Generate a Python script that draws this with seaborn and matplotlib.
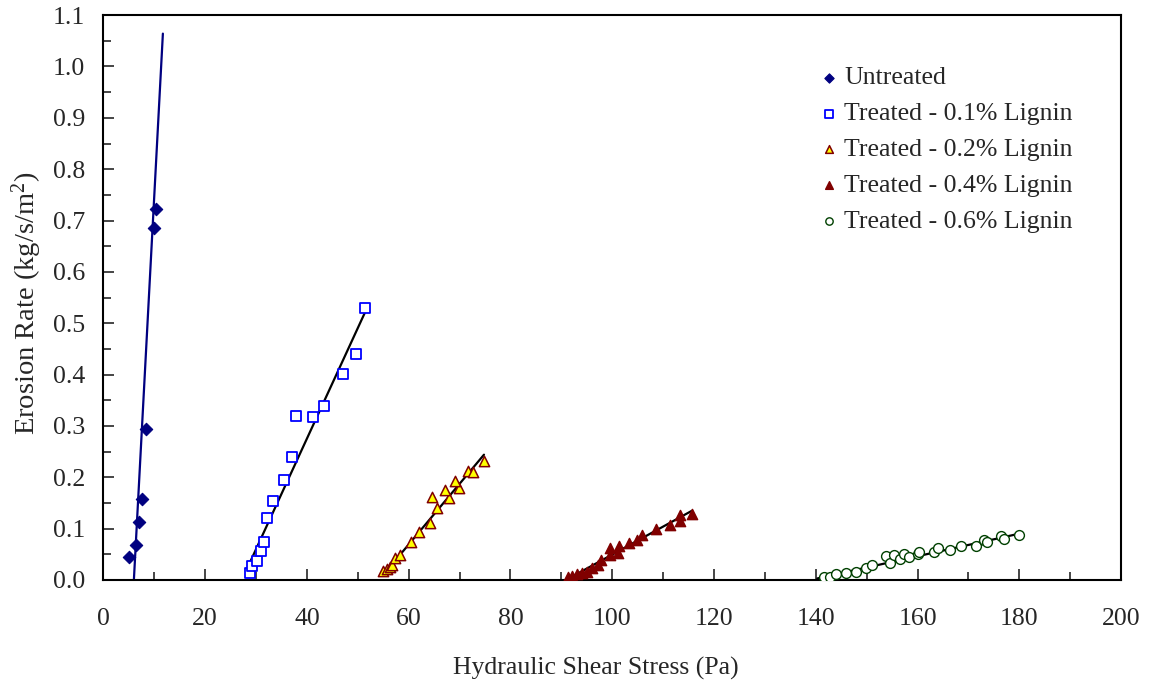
import numpy as np
import pandas as pd
import matplotlib
matplotlib.use("Agg")
import matplotlib.pyplot as plt
import seaborn as sns
from matplotlib.ticker import MultipleLocator

# data
untreated_x = [5.0, 6.5, 7.0, 7.5, 8.3, 10.0, 10.3]
untreated_y = [0.045, 0.068, 0.113, 0.158, 0.295, 0.685, 0.722]

l01_x = [28.8, 29.2, 30.2, 31.0, 31.6, 32.2, 33.3, 35.5, 37.0, 37.8, 41.2, 43.4, 47.1, 49.6, 51.5]
l01_y = [0.014, 0.027, 0.037, 0.057, 0.074, 0.121, 0.154, 0.195, 0.240, 0.319, 0.318, 0.338, 0.402, 0.441, 0.529]

l02_x = [55.0, 55.7, 56.3, 56.8, 57.3, 58.2, 60.5, 62.0, 64.1, 65.5, 64.6, 67.9, 67.1, 69.9, 69.1, 71.6, 72.7, 74.8]
l02_y = [0.018, 0.021, 0.025, 0.029, 0.042, 0.049, 0.073, 0.094, 0.110, 0.141, 0.162, 0.160, 0.176, 0.180, 0.193, 0.213, 0.210, 0.231]

l04_x = [91.4, 92.1, 93.1, 94.0, 95.0, 96.0, 97.2, 97.8, 99.6, 101.1, 99.6, 101.4, 103.3, 104.8, 105.8, 108.7, 111.4, 113.3, 113.3, 115.6]
l04_y = [0.005, 0.008, 0.012, 0.013, 0.016, 0.023, 0.029, 0.039, 0.049, 0.053, 0.062, 0.066, 0.072, 0.077, 0.088, 0.099, 0.107, 0.114, 0.127, 0.129]

l06_x = [141.6, 142.8, 143.9, 146.0, 148.0, 149.8, 151.1, 153.9, 154.5, 155.3, 156.6, 157.4, 158.4, 160.1, 160.3,
         163.3, 164.0, 166.4, 168.5, 171.5, 173.1, 173.7, 176.4, 177.0, 179.9]
l06_y = [0.005, 0.006, 0.012, 0.013, 0.015, 0.023, 0.029, 0.047, 0.034, 0.048, 0.041, 0.051, 0.044, 0.050, 0.054,
         0.055, 0.062, 0.059, 0.067, 0.067, 0.078, 0.074, 0.085, 0.079, 0.088]

# trend line end points
fit_untreated = ([6.0, 11.7], [0.0, 1.064])
fit_01 = ([28.8, 51.6], [0.034, 0.525])
fit_02 = ([55.0, 74.8], [0.010, 0.244])
fit_04 = ([91.1, 115.7], [0.001, 0.135])
fit_06 = ([140.3, 179.9], [0.003, 0.090])

labels = ["Untreated", "Treated - 0.1% Lignin", "Treated - 0.2% Lignin",
          "Treated - 0.4% Lignin", "Treated - 0.6% Lignin"]

sns.set_style("white")
plt.rcParams["font.family"] = ["Liberation Serif", "DejaVu Serif"]
plt.rcParams["mathtext.fontset"] = "stix"

fig = plt.figure(figsize=(11.56, 6.88), dpi=100)
ax = fig.add_axes([0.0894, 0.157, 0.8804, 0.821])

series = [
    (untreated_x, untreated_y, fit_untreated, dict(marker="D", s=40, color="#000080", edgecolor="#000080", linewidth=0.8), "#000080"),
    (l01_x, l01_y, fit_01, dict(marker="s", s=62, facecolor="white", edgecolor="#0000FF", linewidth=1.3), "black"),
    (l02_x, l02_y, fit_02, dict(marker="^", s=55, color="#FFFF00", edgecolor="#800000", linewidth=1.1), "black"),
    (l04_x, l04_y, fit_04, dict(marker="^", s=55, color="#800000", edgecolor="#800000", linewidth=1.0), "black"),
    (l06_x, l06_y, fit_06, dict(marker="o", s=50, facecolor="white", edgecolor="#004000", linewidth=1.0), "black"),
]

for (xs, ys, fit, style, lc), lab in zip(series, labels):
    df = pd.DataFrame({"x": xs, "y": ys})
    sns.scatterplot(data=df, x="x", y="y", ax=ax, label=lab, zorder=3, **style)
    fdf = pd.DataFrame({"x": fit[0], "y": fit[1]})
    sns.lineplot(data=fdf, x="x", y="y", ax=ax, color=lc, linewidth=1.6, zorder=2, legend=False)

ax.set_xlim(0, 200)
ax.set_ylim(0, 1.1)
ax.xaxis.set_major_locator(MultipleLocator(20))
ax.xaxis.set_minor_locator(MultipleLocator(10))
ax.yaxis.set_major_locator(MultipleLocator(0.1))
ax.yaxis.set_minor_locator(MultipleLocator(0.05))
ax.yaxis.set_major_formatter(matplotlib.ticker.FormatStrFormatter("%.1f"))
ax.tick_params(which="major", direction="in", length=8, width=1.2, labelsize=18.5,
               bottom=True, left=True, top=False, right=False)
ax.tick_params(axis="x", which="major", pad=20)
ax.tick_params(axis="y", which="major", pad=13)
ax.tick_params(which="minor", direction="in", length=6, width=1.2, bottom=True, left=True, top=False, right=False)

for sp in ax.spines.values():
    sp.set_color("black")
    sp.set_linewidth(1.5)

ax.set_xlabel("Hydraulic Shear Stress (Pa)", fontsize=18.5)
ax.set_ylabel(r"Erosion Rate (kg/s/m$\mathregular{^2}$)", fontsize=20.5)
ax.xaxis.set_label_coords(0.484, -0.136)
ax.yaxis.set_label_coords(-0.058, 0.49)

leg = ax.legend(loc="upper left", bbox_to_anchor=(0.68, 0.95), frameon=False, fontsize=18.5,
                handlelength=0.8, handletextpad=0.2, labelspacing=0.5, markerscale=0.75)

fig.savefig("out.png", dpi=100)
